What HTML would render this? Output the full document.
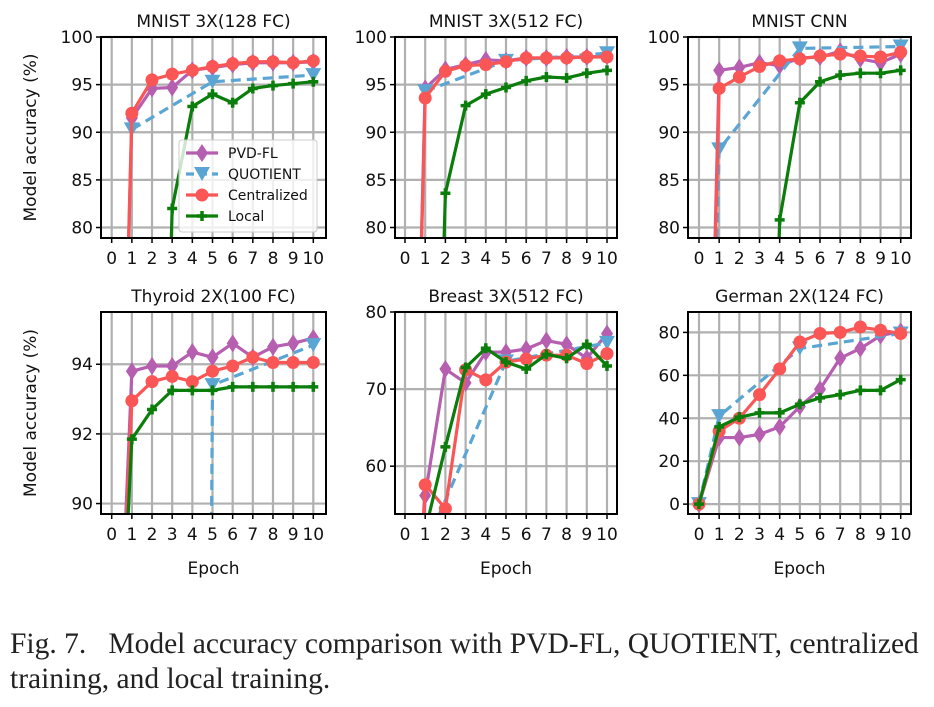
<!DOCTYPE html>
<html><head><meta charset="utf-8"><style>
html,body{margin:0;background:#fff;width:934px;height:707px;overflow:hidden;position:relative}
svg{position:absolute;left:0;top:0}
.cap{position:absolute;left:10px;width:915px;font-family:"Liberation Serif",serif;font-size:29.5px;line-height:30px;height:32px;overflow:hidden;color:#222;white-space:nowrap}
</style></head><body>
<svg id="chart" width="934" height="707" font-family="DejaVu Sans, sans-serif"></svg>
<div class="cap" style="top:629px">Fig. 7.&nbsp;&nbsp; Model accuracy comparison with PVD-FL, QUOTIENT, centralized</div>
<div class="cap" style="top:664px">training, and local training.</div>
<script>
const epochs=[0,1,2,3,4,5,6,7,8,9,10];
const titles=["MNIST 3X(128 FC)","MNIST 3X(512 FC)","MNIST CNN","Thyroid 2X(100 FC)","Breast 3X(512 FC)","German 2X(124 FC)"];
const yTicks=[[80,85,90,95,100],[80,85,90,95,100],[80,85,90,95,100],[90,92,94],[60,70,80],[0,20,40,60,80]];
const yLims=[[78.9,100],[78.9,100],[78.9,100],[89.7,95.5],[53.8,80],[-4.6,89.5]];
const pvd=[
[10,91.5,94.6,94.7,96.5,96.8,97.1,97.3,97.3,97.3,97.4],
[10,94.6,96.6,97.1,97.6,97.5,97.8,97.8,97.9,97.9,98.0],
[10,96.5,96.8,97.3,97.0,97.8,97.9,98.5,97.7,97.3,98.2],
[80,93.8,93.95,93.95,94.35,94.2,94.6,94.2,94.5,94.6,94.75],
[10,56.2,72.6,70.8,74.8,74.8,75.2,76.3,75.8,74.0,77.2],
[0,31,31,32.5,36,45.5,53.5,68,72.5,78.5,80.5]];
const quotient=[
[null,90.3,null,null,null,95.3,null,null,null,null,96.0],
[null,94.3,null,null,null,97.5,null,null,null,null,98.3],
[10,88.2,null,null,null,98.8,null,null,null,null,99.0],
[null,null,null,null,10,93.4,null,null,null,null,94.55],
[null,49.6,null,null,null,73.6,null,null,null,null,76.0],
[0,41,null,null,null,72.5,null,null,null,null,79.5]];
const centralized=[
[10,92.0,95.5,96.1,96.5,96.9,97.2,97.4,97.4,97.3,97.5],
[10,93.6,96.4,97.0,97.1,97.4,97.8,97.8,97.8,97.9,97.9],
[10,94.6,95.8,96.9,97.5,97.7,98.0,98.2,98.0,97.9,98.4],
[80,92.95,93.5,93.65,93.5,93.8,93.95,94.2,94.05,94.05,94.05],
[10,57.6,54.5,72.5,71.2,73.5,73.9,74.4,74.4,73.3,74.6],
[0,34,40,51,63,75.5,79.5,80,82.5,81,79.5]];
const local=[
[null,null,10,82.0,92.7,94.0,93.1,94.6,94.9,95.1,95.3],
[null,10,83.6,92.8,94.0,94.7,95.4,95.8,95.7,96.2,96.5],
[null,null,null,10,80.8,93.1,95.3,96.0,96.2,96.2,96.5],
[80,91.85,92.7,93.25,93.25,93.25,93.35,93.35,93.35,93.35,93.35],
[null,51.6,62.5,72.8,75.3,73.5,72.6,74.5,74.0,75.8,73.0],
[0,36,40.5,42.5,42.5,46.5,49.5,51,53,53,58]];
const boxes=[[101,37,326,238],[395,37,617,238],[688,37,911,238],[101,312,326,514],[395,312,617,514],[688,312,911,514]];
const series=[
{name:"PVD-FL",data:pvd,color:"#b65fb0",marker:"d",dash:null},
{name:"QUOTIENT",data:quotient,color:"#5aa5d3",marker:"v",dash:"10,6"},
{name:"Centralized",data:centralized,color:"#fb5656",marker:"o",dash:null},
{name:"Local",data:local,color:"#0b7d0b",marker:"p",dash:null}];
const NS="http://www.w3.org/2000/svg";
const svg=document.getElementById('chart');
function el(t,a,p){const e=document.createElementNS(NS,t);for(const k in a)e.setAttribute(k,a[k]);(p||svg).appendChild(e);return e;}
function marker(g,m,x,y,c){
 if(m==="o")return el('circle',{cx:x,cy:y,r:6.5,fill:c},g);
 if(m==="d")return el('polygon',{points:`${x},${y-9} ${x+6},${y} ${x},${y+9} ${x-6},${y}`,fill:c},g);
 if(m==="v")return el('polygon',{points:`${x-8},${y-7} ${x+8},${y-7} ${x},${y+7}`,fill:c},g);
 return el('path',{d:`M${x-5},${y}H${x+5}M${x},${y-5}V${y+5}`,stroke:c,'stroke-width':3.5},g);
}
boxes.forEach((b,i)=>{
 const [L,T,R,B]=b;
 const x0=(i%3===0)?111.7:(i%3===1?405:699);
 const x10=(i%3===0)?313.3:(i%3===1?607:900.7);
 const xs=v=>x0+(x10-x0)*v/10;
 const [ymin,ymax]=yLims[i];
 const ys=v=>B-(v-ymin)/(ymax-ymin)*(B-T);
 const g=el('g',{});
 
 
 const cp=el('clipPath',{id:'c'+i},g);el('rect',{x:L,y:T,width:R-L,height:B-T},cp);
 const grid=el('g',{stroke:'#b0b0b0','stroke-width':2.2},g);
 
 
 epochs.forEach(e=>{el('line',{x1:xs(e),x2:xs(e),y1:T,y2:B},grid);
   const t=el('text',{x:xs(e),y:B+26,'text-anchor':'middle','font-size':17,fill:'#111'},g);t.textContent=e;
   
   el('line',{x1:xs(e),x2:xs(e),y1:B,y2:B+5,stroke:'#000','stroke-width':1.5},g);});
 yTicks[i].forEach(v=>{el('line',{x1:L,x2:R,y1:ys(v),y2:ys(v)},grid);
   el('line',{x1:L-5,x2:L,y1:ys(v),y2:ys(v),stroke:'#000','stroke-width':1.5},g);
   const t=el('text',{x:L-8,y:ys(v)+6,'text-anchor':'end','font-size':17,fill:'#111'},g);t.textContent=v;
   });
 const pg=el('g',{'clip-path':`url(#c${i})`},g);
 series.forEach(s=>{
  const d=s.data[i];let path="",pen=false;
  d.forEach((v,k)=>{if(v===null)return;path+=(pen?"L":"M")+xs(epochs[k])+","+ys(v);pen=true;});
  const ln=el('path',{d:path,fill:'none',stroke:s.color,'stroke-width':3.2,'stroke-linejoin':'round'},pg);
  if(s.dash)ln.setAttribute('stroke-dasharray',s.dash);
  
  
  d.forEach((v,k)=>{if(v===null)return;const mk=marker(pg,s.marker,xs(epochs[k]),ys(v),s.color);
   
   });
 });
 el('rect',{x:L,y:T,width:R-L,height:B-T,fill:'none',stroke:'#000','stroke-width':2},g);
 const tt=el('text',{x:(L+R)/2,y:T-10,'text-anchor':'middle','font-size':17,fill:'#111'},g);tt.textContent=titles[i];
 
 if(i>=3){const xl=el('text',{x:(L+R)/2,y:574,'text-anchor':'middle','font-size':17,fill:'#111'},g);xl.textContent="Epoch";
  }
 if(i%3===0){const yl=el('text',{x:0,y:0,'text-anchor':'middle','font-size':17,fill:'#111',transform:`translate(36,${(T+B)/2}) rotate(-90)`},g);yl.textContent="Model accuracy (%)";
  }
});
const lg=el('g',{});


el('rect',{x:179,y:140,width:138,height:92,rx:3,fill:'rgba(255,255,255,0.8)',stroke:'#ccc','stroke-width':1},lg);
series.forEach((s,k)=>{const y=153+k*21;
 const ln=el('line',{x1:186,x2:218,y1:y,y2:y,stroke:s.color,'stroke-width':3.2},lg);
 if(s.dash)ln.setAttribute('stroke-dasharray','8,5');
 marker(lg,s.marker,202,y,s.color);
 const t=el('text',{x:228,y:y+5,'font-size':14,fill:'#111'},lg);t.textContent=s.name;
 });
</script>
</body></html>
